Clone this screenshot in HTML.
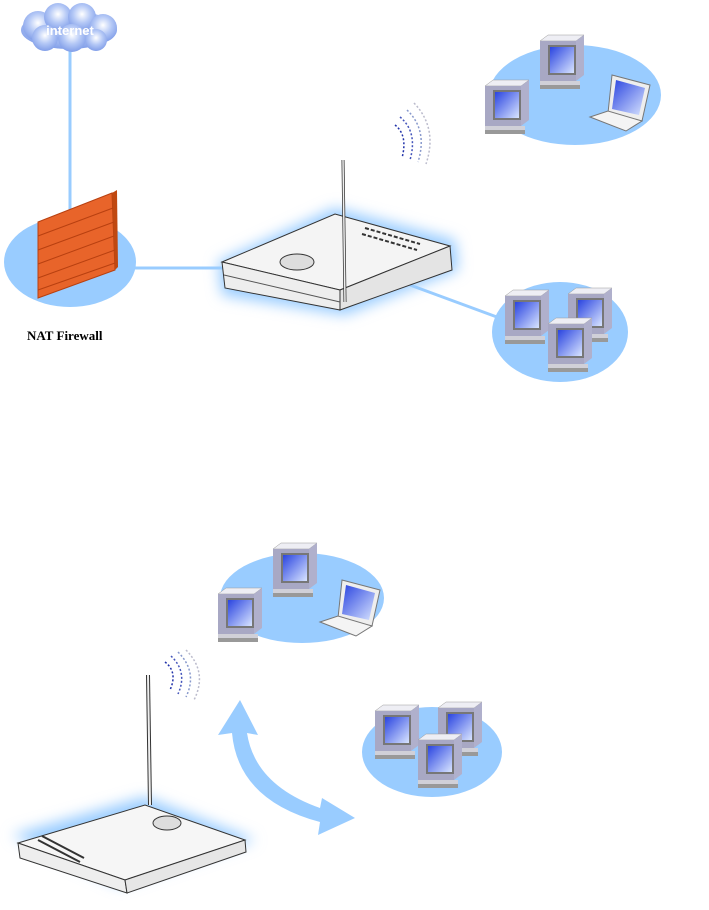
<!DOCTYPE html>
<html><head><meta charset="utf-8"><style>body{margin:0;background:#fff}svg{display:block}</style></head><body>
<svg width="709" height="910" viewBox="0 0 709 910" xmlns="http://www.w3.org/2000/svg">
<defs>
<linearGradient id="scr" x1="0" y1="0" x2="1" y2="1"><stop offset="0" stop-color="#2a44e0"/><stop offset="1" stop-color="#d8e4ff"/></linearGradient>
<radialGradient id="cl" cx="0.5" cy="0.4" r="0.7"><stop offset="0" stop-color="#ffffff"/><stop offset="0.45" stop-color="#b4c8f6"/><stop offset="1" stop-color="#7090e4"/></radialGradient>
<filter id="glow" x="-20%" y="-30%" width="140%" height="160%"><feGaussianBlur stdDeviation="7"/></filter>
<g id="pc">
<polygon points="0,6 8,0 44,0 36,6" fill="#eeeef4" stroke="#999" stroke-width="0.5"/>
<polygon points="36,6 44,0 44,40 36,46" fill="#b0b0cc"/>
<rect x="0" y="6" width="36" height="40" fill="#a8a8c4"/>
<rect x="8" y="10" width="28" height="30" fill="#777"/>
<rect x="10" y="12" width="24" height="26" fill="url(#scr)"/>
<rect x="0" y="46" width="40" height="4" fill="#d0d0d8"/>
<rect x="0" y="50" width="40" height="4" fill="#999"/>
</g>
<g id="lap">
<polygon points="22,0 60,10 52,46 18,38" fill="#eee" stroke="#777" stroke-width="1"/>
<polygon points="26,5 55,13 49,40 22,34" fill="url(#scr)"/>
<polygon points="0,42 18,36 52,46 36,56" fill="#f4f4f4" stroke="#777" stroke-width="1"/>
</g>
</defs>

<!-- top section -->
<line x1="70" y1="45" x2="70" y2="220" stroke="#99ccff" stroke-width="3"/>
<line x1="130" y1="268" x2="225" y2="268" stroke="#99ccff" stroke-width="3"/>
<line x1="410" y1="285" x2="505" y2="320" stroke="#99ccff" stroke-width="3"/>
<g fill="url(#cl)">
<ellipse cx="69" cy="30" rx="48" ry="19"/>
<circle cx="38" cy="26" r="15"/><circle cx="58" cy="17" r="14"/><circle cx="82" cy="17" r="14"/><circle cx="103" cy="28" r="14"/><circle cx="72" cy="38" r="14"/><circle cx="45" cy="38" r="13"/><circle cx="96" cy="40" r="11"/>
</g>
<text x="70" y="35" font-family="Liberation Sans, sans-serif" font-weight="bold" font-size="13" fill="#fff" text-anchor="middle">internet</text>

<ellipse cx="70" cy="262" rx="66" ry="45" fill="#99ccff"/>
<polygon points="38,222 112,193 115,270 38,298" fill="#e8642a" stroke="#b84010" stroke-width="1"/>
<polygon points="112,193 117,190 118,267 115,270" fill="#c04810"/>
<g stroke="#b84010" stroke-width="1">
<line x1="38" y1="236" x2="113" y2="208"/><line x1="38" y1="250" x2="114" y2="222"/><line x1="38" y1="264" x2="114" y2="236"/><line x1="38" y1="278" x2="115" y2="250"/><line x1="38" y1="290" x2="115" y2="263"/>
</g>
<text x="27" y="340" font-family="Liberation Serif, serif" font-weight="bold" font-size="13" fill="#000">NAT Firewall</text>

<ellipse cx="575" cy="95" rx="86" ry="50" fill="#99ccff"/>
<use href="#pc" x="485" y="80"/>
<use href="#pc" x="540" y="35"/>
<use href="#lap" x="590" y="75"/>

<ellipse cx="560" cy="332" rx="68" ry="50" fill="#99ccff"/>
<use href="#pc" x="505" y="290"/>
<use href="#pc" x="568" y="288"/>
<use href="#pc" x="548" y="318"/>

<g fill="none" stroke-width="1.5" stroke-dasharray="2,2">
<path d="M395,125 Q408,135 402,158" stroke="#2233aa"/>
<path d="M400,117 Q418,132 410,160" stroke="#4455bb"/>
<path d="M407,110 Q428,130 418,162" stroke="#8899cc"/>
<path d="M414,103 Q438,128 426,164" stroke="#bbbbcc"/>
</g>

<polygon points="218,262 335,208 455,240 458,270 345,315 222,295" fill="#99ccff" filter="url(#glow)"/>
<polygon points="222,262 335,214 450,246 340,290" fill="#f4f4f4" stroke="#333" stroke-width="1"/>
<polygon points="222,262 340,290 340,310 225,288" fill="#eee" stroke="#333" stroke-width="1"/>
<polygon points="340,290 450,246 452,270 340,310" fill="#e4e4e4" stroke="#333" stroke-width="1"/>
<line x1="224" y1="275" x2="340" y2="302" stroke="#555" stroke-width="1"/>
<ellipse cx="297" cy="262" rx="17" ry="8" fill="#ddd" stroke="#333"/>
<g stroke="#333" stroke-width="2" stroke-dasharray="4,2"><line x1="365" y1="228" x2="420" y2="244"/><line x1="362" y1="234" x2="417" y2="250"/></g>
<line x1="343" y1="160" x2="345" y2="302" stroke="#333" stroke-width="3"/>
<line x1="343" y1="160" x2="345" y2="302" stroke="#eee" stroke-width="1.5"/>

<!-- bottom section -->
<ellipse cx="302" cy="598" rx="82" ry="45" fill="#99ccff"/>
<use href="#pc" x="218" y="588"/>
<use href="#pc" x="273" y="543"/>
<use href="#lap" x="320" y="580"/>

<ellipse cx="432" cy="752" rx="70" ry="45" fill="#99ccff"/>
<use href="#pc" x="375" y="705"/>
<use href="#pc" x="438" y="702"/>
<use href="#pc" x="418" y="734"/>

<g fill="none" stroke-width="1.5" stroke-dasharray="2,2">
<path d="M165,662 Q178,672 170,690" stroke="#2233aa"/>
<path d="M171,656 Q188,672 178,694" stroke="#4455bb"/>
<path d="M178,652 Q198,672 186,697" stroke="#8899cc"/>
<path d="M186,650 Q208,672 194,700" stroke="#bbbbcc"/>
</g>

<path d="M218,735 L240,700 L258,735 L247,733 Q255,785 320,808 L322,798 L355,818 L318,835 L320,822 Q238,800 232,733 Z" fill="#99ccff"/>

<polygon points="12,835 145,797 255,840 120,885" fill="#99ccff" filter="url(#glow)"/>
<polygon points="18,843 145,805 245,840 125,880" fill="#f6f6f6" stroke="#333" stroke-width="1"/>
<polygon points="18,843 125,880 127,893 20,858" fill="#eee" stroke="#333" stroke-width="1"/>
<polygon points="125,880 245,840 246,852 127,893" fill="#e6e6e6" stroke="#333" stroke-width="1"/>
<ellipse cx="167" cy="823" rx="14" ry="7" fill="#ddd" stroke="#333"/>
<g stroke="#333" stroke-width="2"><line x1="38" y1="840" x2="80" y2="862"/><line x1="42" y1="836" x2="84" y2="858"/></g>
<line x1="148" y1="675" x2="150" y2="805" stroke="#333" stroke-width="4"/>
<line x1="148" y1="675" x2="150" y2="805" stroke="#eee" stroke-width="2"/>
</svg>
</body></html>
